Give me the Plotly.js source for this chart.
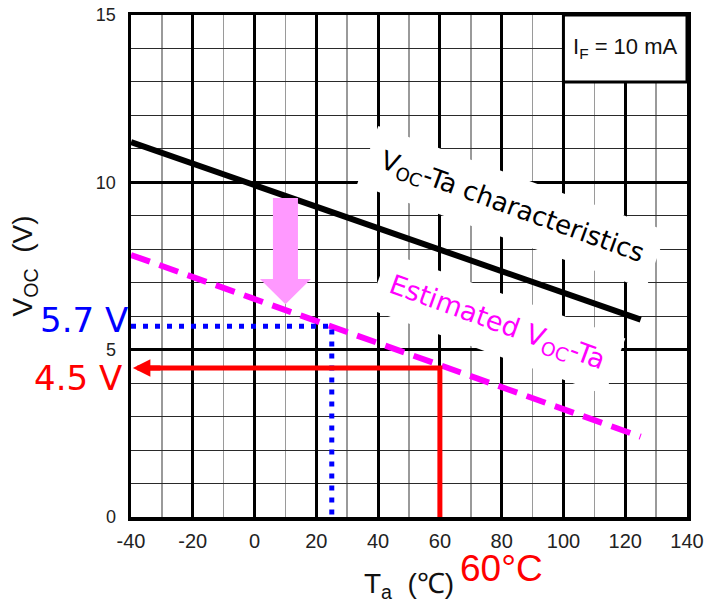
<!DOCTYPE html>
<html>
<head>
<meta charset="utf-8">
<script src="https://cdn.plot.ly/plotly-3.0.1.min.js"></script>
<style>html,body{margin:0;padding:0;background:#fff;}#chart{width:705px;height:603px;}</style>
</head>
<body>
<div id="chart"></div>
<script>
// ---- data ----
const temps = [-40, 125];              // Ta (°C)
const vocMeasured = [11.2, 5.9];       // Voc-Ta characteristics (V)
const vocEstimated = [7.83, 2.4];      // Estimated Voc-Ta (V)
const markTemp = 25;                   // blue guide temperature
const markVoc = 5.7;                   // blue guide voltage
const opTemp = 60;                     // red guide temperature
const opVoc = 4.45;                    // red guide voltage
const xTickVals = [-40, -20, 0, 20, 40, 60, 80, 100, 120, 140];
const xTickText = ['-40', '-20', '0', '20', '40', '60', '80', '100', '120', '140'];
const yTickVals = [0, 5, 10, 15];
const yTickText = ['0', '5', '10', '15'];

const ARIAL = 'Liberation Sans, Arial, sans-serif';
const VERD = 'DejaVu Sans, Verdana, sans-serif';

const traces = [
  {x: temps, y: vocMeasured, mode: 'lines', line: {color: '#000', width: 6}, hoverinfo: 'skip'},
  {x: temps, y: vocEstimated, mode: 'lines', line: {color: '#ff00ff', width: 6, dash: '20px,10px'}, hoverinfo: 'skip'},
  {x: [temps[0], markTemp, markTemp], y: [markVoc, markVoc, 0], mode: 'lines',
   line: {color: '#0000ff', width: 5, dash: '5px,7px'}, hoverinfo: 'skip'},
  {x: [opTemp, opTemp, temps[0] + 3], y: [0, opVoc, opVoc], mode: 'lines',
   line: {color: '#ff0000', width: 5}, hoverinfo: 'skip'}
];

// pink downward arrow (decoration)
const pa = {cx: 10, shaftHalf: 4.05, headHalf: 8.25, top: 9.53, headBase: 7.11, tip: 6.36};
const pinkPath = 'M' + (pa.cx - pa.shaftHalf) + ',' + pa.top +
  ' L' + (pa.cx + pa.shaftHalf) + ',' + pa.top +
  ' L' + (pa.cx + pa.shaftHalf) + ',' + pa.headBase +
  ' L' + (pa.cx + pa.headHalf) + ',' + pa.headBase +
  ' L' + pa.cx + ',' + pa.tip +
  ' L' + (pa.cx - pa.headHalf) + ',' + pa.headBase +
  ' L' + (pa.cx - pa.shaftHalf) + ',' + pa.headBase + ' Z';

const layout = {
  width: 705, height: 603,
  margin: {l: 131, r: 18, t: 15, b: 86},
  showlegend: false,
  paper_bgcolor: '#fff', plot_bgcolor: '#fff',
  xaxis: {
    range: [-40, 140], tickmode: 'array', tickvals: xTickVals, ticktext: xTickText,
    showgrid: true, gridcolor: '#000', gridwidth: 3, zeroline: false,
    showline: true, mirror: true, linecolor: '#000', linewidth: 3.5, ticks: '',
    ticklabelstandoff: 3,
    tickfont: {family: ARIAL, size: 20, color: '#222'},
    minor: {tickmode: 'linear', tick0: -30, dtick: 20, showgrid: true, gridcolor: '#9a9a9a', gridwidth: 1.5, ticks: ''},
    title: {text: 'T<sub>a</sub>\u00a0\u00a0(\u2103)', font: {family: ARIAL, size: 28, color: '#111'}, standoff: 24},
    fixedrange: true
  },
  yaxis: {
    range: [0, 15], tickmode: 'array', tickvals: yTickVals, ticktext: yTickText,
    showgrid: true, gridcolor: '#000', gridwidth: 3, zeroline: false,
    showline: true, mirror: true, linecolor: '#000', linewidth: 3.5, ticks: '',
    ticklabelstandoff: 8,
    tickfont: {family: ARIAL, size: 18, color: '#222'},
    minor: {tickmode: 'linear', tick0: 0, dtick: 1, showgrid: true, gridcolor: '#2a2a2a', gridwidth: 1, ticks: ''},
    title: {text: 'V<sub>OC</sub>\u00a0\u00a0(V)', font: {family: ARIAL, size: 28, color: '#111'}, standoff: 56},
    fixedrange: true
  },
  shapes: [
    {type: 'rect', xref: 'x', yref: 'y', x0: 100, x1: 140, y0: 13, y1: 15,
     fillcolor: '#fff', line: {color: '#000', width: 3}, layer: 'above'},
    {type: 'path', xref: 'x', yref: 'y', path: pinkPath, fillcolor: '#ff99ff',
     line: {width: 0}, layer: 'above'}
  ],
  annotations: [
    {xref: 'x', yref: 'y', x: 120, y: 14, text: 'I<sub>F</sub> = 10 mA', showarrow: false,
     font: {family: ARIAL, size: 22, color: '#111'}},
    {xref: 'x', yref: 'y', x: 83.2, y: 9.25, text: 'V<sub>OC</sub>-Ta characteristics', showarrow: false,
     textangle: 20, bgcolor: '#fff', borderpad: 14, font: {family: VERD, size: 26, color: '#000'}},
    {xref: 'x', yref: 'y', x: 78.3, y: 5.77, text: 'Estimated V<sub>OC</sub>-Ta', showarrow: false,
     textangle: 20, bgcolor: '#fff', borderpad: 12, font: {family: VERD, size: 27, color: '#ff00ff'}},
    {xref: 'paper', yref: 'y', x: -0.0854, y: 5.9, xanchor: 'center', yanchor: 'middle',
     text: markVoc + ' V', showarrow: false, font: {family: VERD, size: 34, color: '#0000ff'}},
    {xref: 'paper', yref: 'y', x: -0.0953, y: 4.15, xanchor: 'center', yanchor: 'middle',
     text: '4.5 V', showarrow: false, font: {family: VERD, size: 34, color: '#ff0000'}},
    {xref: 'x', yref: 'paper', x: 79.8, y: -0.1026, xanchor: 'center', yanchor: 'middle',
     text: opTemp + '°C', showarrow: false, font: {family: ARIAL, size: 37, color: '#ff0000'}},
    {xref: 'x', yref: 'y', x: -39.4, y: opVoc, axref: 'x', ayref: 'y', ax: -30, ay: opVoc,
     text: '', showarrow: true, arrowhead: 2, arrowsize: 0.7, arrowwidth: 5, arrowcolor: '#ff0000', standoff: 0}
  ]
};

Plotly.newPlot('chart', traces, layout, {displayModeBar: false, staticPlot: true});
</script>
</body>
</html>
